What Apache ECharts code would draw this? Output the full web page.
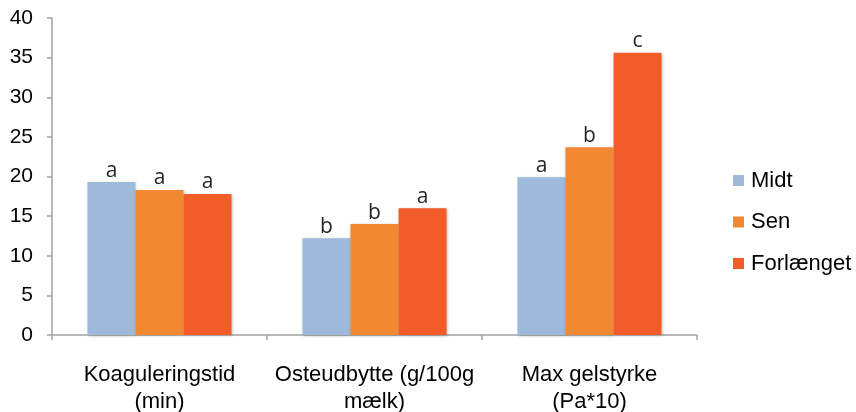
<!DOCTYPE html>
<html><head><meta charset="utf-8">
<script src="https://cdn.jsdelivr.net/npm/echarts@6/dist/echarts.min.js"></script>
<style>html,body{margin:0;padding:0;background:#fff}#c{width:856px;height:412px}</style>
</head><body><div id="c"></div>
<script>
const categories = ['Koaguleringstid\n(min)', 'Osteudbytte (g/100g\nmælk)', 'Max gelstyrke\n(Pa*10)'];
const seriesNames = ['Midt', 'Sen', 'Forlænget'];
const midt = [19.3, 12.2, 19.9];
const sen = [18.3, 14.0, 23.7];
const forlaenget = [17.8, 16.0, 35.6];
const midtLetters = ['a', 'b', 'a'];
const senLetters = ['a', 'b', 'b'];
const forlLetters = ['a', 'a', 'c'];
const yTicks = [0, 5, 10, 15, 20, 25, 30, 35, 40];

const colors = ['#9EBADA', '#F38832', '#F15C28'];
const values = [midt, sen, forlaenget];
const letters = [midtLetters, senLetters, forlLetters];

const chart = echarts.init(document.getElementById('c'));
chart.setOption({
  animation: false,
  grid: { left: 52, right: 159, top: 18, bottom: 77, containLabel: false, outerBoundsMode: 'none' },
  legend: {
    orient: 'vertical', left: 733, top: 169, itemWidth: 11, itemHeight: 11, itemGap: 18.5,
    icon: 'rect', padding: 0,
    textStyle: { fontFamily: 'Liberation Sans', fontSize: 22, lineHeight: 20, color: '#000', padding: [3, 0, 0, 2] },
    data: seriesNames
  },
  xAxis: {
    type: 'category', data: categories,
    axisLine: { lineStyle: { color: '#A3A3A3', width: 1.5 } },
    axisTick: { show: true, length: 5, alignWithLabel: false, lineStyle: { color: '#A3A3A3', width: 1.5 } },
    axisLabel: { fontFamily: 'Liberation Sans', fontSize: 22, color: '#000', margin: 26, lineHeight: 27, interval: 0 }
  },
  yAxis: {
    type: 'value', min: 0, max: 40, interval: 5,
    axisLine: { show: true, lineStyle: { color: '#A3A3A3', width: 1.5 } },
    axisTick: { show: true, length: 5, lineStyle: { color: '#A3A3A3', width: 1.5 } },
    splitLine: { show: false },
    axisLabel: { fontFamily: 'Liberation Sans', fontSize: 21, color: '#000', margin: 19, padding: [6, 0, 0, 0],
      formatter: v => yTicks.includes(v) ? String(v) : '' }
  },
  series: seriesNames.map((n, i) => ({
    name: n, type: 'bar', barGap: '0%', barCategoryGap: '33%',
    data: values[i],
    itemStyle: { color: colors[i], shadowColor: 'rgba(0,0,0,0.25)', shadowBlur: 3, shadowOffsetX: 1, shadowOffsetY: 1 },
    label: { show: true, position: 'top', distance: 1, fontFamily: 'Open Sans', fontSize: 21, color: '#262626',
      formatter: p => letters[i][p.dataIndex] }
  }))
});
</script></body></html>
